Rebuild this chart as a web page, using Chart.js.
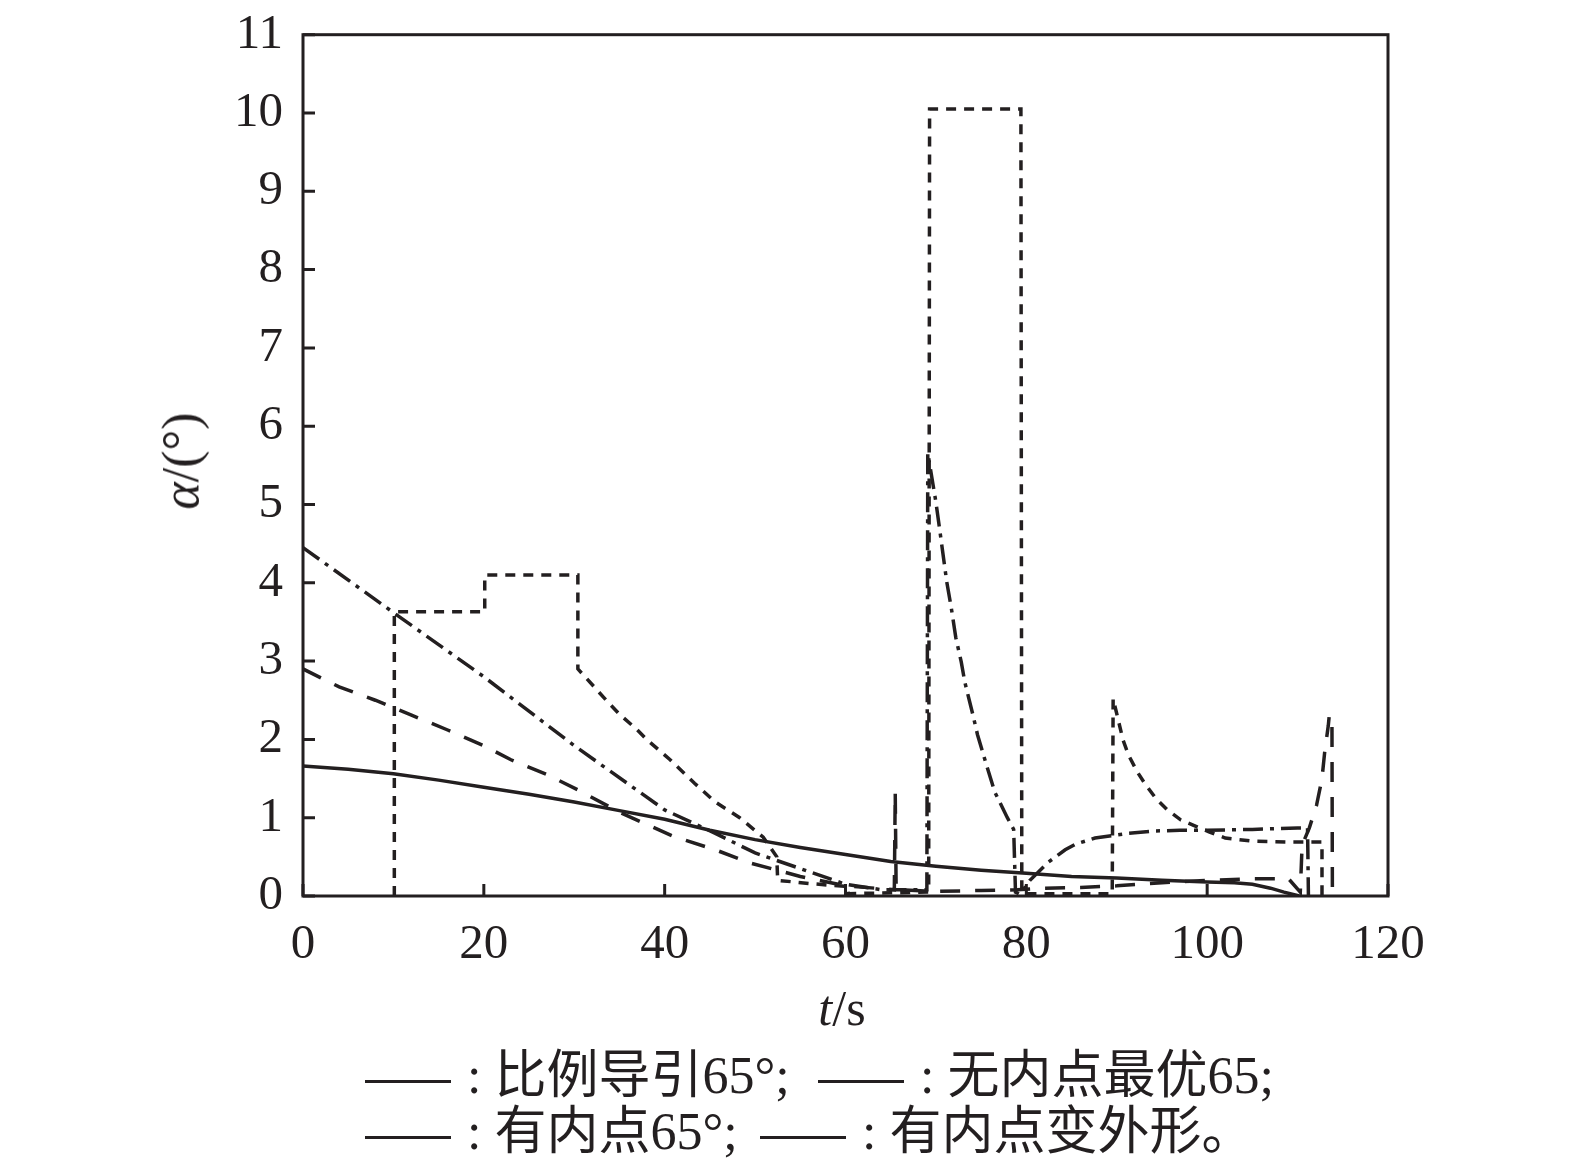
<!DOCTYPE html>
<html lang="zh">
<head>
<meta charset="UTF-8">
<title>α - t</title>
<script src="https://cdn.jsdelivr.net/npm/chart.js@4.4.1/dist/chart.umd.min.js"></script>
<style>
    body { margin: 0; background: #fff; }
    #wrap { position: relative; width: 1575px; height: 1169px; font-family: "Liberation Serif", "Noto Sans CJK SC", serif; color: #231f20; }
    #box { position: absolute; left: 0; top: 0; width: 1575px; height: 1169px; }
    .xt { position: absolute; left: 0; width: 1684px; top: 982px; text-align: center; font-size: 50px; line-height: 52px; }
    .yt { position: absolute; left: 181px; top: 461px; font-size: 52px; line-height: 54px; white-space: nowrap; transform: translate(-50%, -50%) rotate(-90deg); }
    .item { position: absolute; font-size: 52px; line-height: 56px; white-space: nowrap; }
    .item .ln { display: inline-block; width: 86px; height: 3px; background: #231f20; vertical-align: middle; margin-right: 16px; }
</style>
</head>
<body>
<div id="wrap">
    <div id="box"><canvas id="alphaChart"></canvas></div>
    <div class="xt"><i>t</i>/s</div>
    <div class="yt"><i>α</i>/(°)</div>
    <div class="item" style="left:365px; top:1048px"><span class="ln"></span>: 比例导引65°;</div>
    <div class="item" style="left:818px; top:1048px"><span class="ln"></span>: 无内点最优65;</div>
    <div class="item" style="left:365px; top:1104px"><span class="ln"></span>: 有内点65°;</div>
    <div class="item" style="left:760px; top:1104px"><span class="ln"></span>: 有内点变外形。</div>
</div>

<script>
    // series names (legend order)
    const seriesNames = ['比例导引65°', '无内点最优65', '有内点65°', '有内点变外形'];

    // 比例导引65° - solid
    const propT = [0, 5, 10, 15, 20, 25, 30, 35, 40, 45, 50, 55, 60, 65, 70, 75, 80, 85, 90, 95, 100, 103, 105, 107, 108.5, 110.2];
    const propA = [1.66, 1.62, 1.56, 1.48, 1.39, 1.3, 1.2, 1.09, 0.98, 0.84, 0.72, 0.62, 0.53, 0.44, 0.38, 0.33, 0.29, 0.25, 0.23, 0.2, 0.18, 0.17, 0.15, 0.1, 0.05, 0];

    // 无内点最优65 - long dash
    const noPtT = [0, 4, 8, 12, 16, 20, 23, 27, 30.5, 35, 41, 45.6, 49.5, 55, 60, 65.4, 65.5, 65.6, 70, 75, 79, 82, 86, 90, 95, 100, 105, 109, 110.3, 110.5, 111.3, 112.1, 112.7, 113, 113.4, 113.5, 113.8, 113.85];
    const noPtA = [2.9, 2.67, 2.5, 2.31, 2.12, 1.92, 1.74, 1.55, 1.35, 1.07, 0.76, 0.59, 0.42, 0.25, 0.13, 0.08, 1.33, 0.08, 0.06, 0.07, 0.08, 0.1, 0.11, 0.13, 0.17, 0.2, 0.22, 0.22, 0.05, 0.65, 0.87, 1.16, 1.5, 1.84, 2.18, 2.3, 2.3, 0];

    // 有内点65° - dash dot
    const ptT = [0, 10, 20, 30, 40, 45.6, 50, 55, 60, 64, 69.0, 69.1, 70, 70.5, 71.2, 71.7, 72.2, 72.8, 73.2, 74.1, 74.6, 75.6, 76.5, 77.9, 78.6, 78.8, 79.3, 80.4, 82.4, 84.3, 85.4, 87.6, 91.3, 94.3, 97, 100, 105, 110, 111.1, 111.2];
    const ptA = [4.45, 3.62, 2.8, 1.92, 1.1, 0.8, 0.55, 0.35, 0.15, 0.08, 0.08, 5.66, 5.03, 4.61, 4.01, 3.68, 3.3, 2.99, 2.73, 2.31, 2.06, 1.67, 1.33, 1.0, 0.85, 0.05, 0.02, 0.2, 0.43, 0.59, 0.66, 0.74, 0.8, 0.83, 0.84, 0.84, 0.85, 0.87, 0.87, 0];

    // 有内点变外形 - short dash
    const shapeT = [10.1, 10.1, 20.1, 20.1, 30.4, 30.4, 31.2, 33.3, 35, 36.8, 38.1, 40.6, 43.3, 45.6, 48.3, 50.9, 52.4, 52.5, 56, 60.2, 60.3, 65, 69.2, 69.3, 79.4, 79.5, 85, 89.5, 89.6, 90.7, 91.3, 92.3, 93.2, 94.3, 95.6, 97.1, 100.2, 102, 105, 109, 112.7, 112.7];
    const shapeA = [0, 3.63, 3.63, 4.1, 4.1, 2.9, 2.8, 2.53, 2.32, 2.14, 1.99, 1.74, 1.44, 1.2, 1.0, 0.75, 0.5, 0.2, 0.16, 0.12, 0.03, 0.04, 0.05, 10.05, 10.05, 0.03, 0.03, 0.03, 2.52, 1.99, 1.8, 1.58, 1.42, 1.25, 1.1, 0.97, 0.82, 0.74, 0.7, 0.69, 0.69, 0];

    // axis ticks
    const xTicks = [0, 20, 40, 60, 80, 100, 120];
    const yTicks = [0, 1, 2, 3, 4, 5, 6, 7, 8, 9, 10, 11];

    const ink = '#231f20';

    function toPoints(ts, as) {
        return ts.map((t, i) => ({ x: t, y: as[i] }));
    }

    // frame round the plot and short inward ticks
    const framePlugin = {
        id: 'frame',
        afterDraw(chart) {
            const { ctx, chartArea: a, scales } = chart;
            ctx.save();
            ctx.strokeStyle = ink;
            ctx.lineWidth = 3;
            ctx.strokeRect(a.left, a.top, a.right - a.left, a.bottom - a.top);
            ctx.beginPath();
            scales.x.ticks.forEach((t, i) => {
                const px = scales.x.getPixelForTick(i);
                ctx.moveTo(px, a.bottom);
                ctx.lineTo(px, a.bottom - 12);
            });
            scales.y.ticks.forEach((t, i) => {
                const py = scales.y.getPixelForTick(i);
                ctx.moveTo(a.left, py);
                ctx.lineTo(a.left + 12, py);
            });
            ctx.stroke();
            ctx.restore();
        }
    };

    const ctx = document.getElementById('alphaChart').getContext('2d');
    new Chart(ctx, {
        type: 'line',
        data: {
            datasets: [
                { label: seriesNames[0], data: toPoints(propT, propA), borderDash: [] },
                { label: seriesNames[1], data: toPoints(noPtT, noPtA), borderDash: [20, 15] },
                { label: seriesNames[2], data: toPoints(ptT, ptA), borderDash: [20, 7, 4, 7] },
                { label: seriesNames[3], data: toPoints(shapeT, shapeA), borderDash: [10, 8] }
            ].map(d => Object.assign(d, {
                borderColor: ink,
                borderWidth: 3.5,
                pointRadius: 0,
                tension: 0,
                fill: false
            }))
        },
        options: {
            responsive: true,
            maintainAspectRatio: false,
            animation: false,
            layout: { padding: { left: 0, top: 30, right: 187, bottom: 123 } },
            plugins: {
                legend: { display: false },
                tooltip: { enabled: false }
            },
            scales: {
                x: {
                    type: 'linear',
                    min: 0,
                    max: 120,
                    afterBuildTicks: s => { s.ticks = xTicks.map(v => ({ value: v })); },
                    afterFit: s => { s.height = 150; },
                    grid: { display: false, drawTicks: false },
                    border: { display: false },
                    ticks: { color: ink, padding: 20, maxRotation: 0, font: { family: 'Liberation Serif', size: 49 } }
                },
                y: {
                    type: 'linear',
                    min: 0,
                    max: 11,
                    afterBuildTicks: s => { s.ticks = yTicks.map(v => ({ value: v })); },
                    afterFit: s => { s.width = 303; },
                    grid: { display: false, drawTicks: false },
                    border: { display: false },
                    ticks: { color: ink, padding: 20, font: { family: 'Liberation Serif', size: 49, lineHeight: 0.6 } }
                }
            }
        },
        plugins: [framePlugin]
    });
</script>
</body>
</html>
